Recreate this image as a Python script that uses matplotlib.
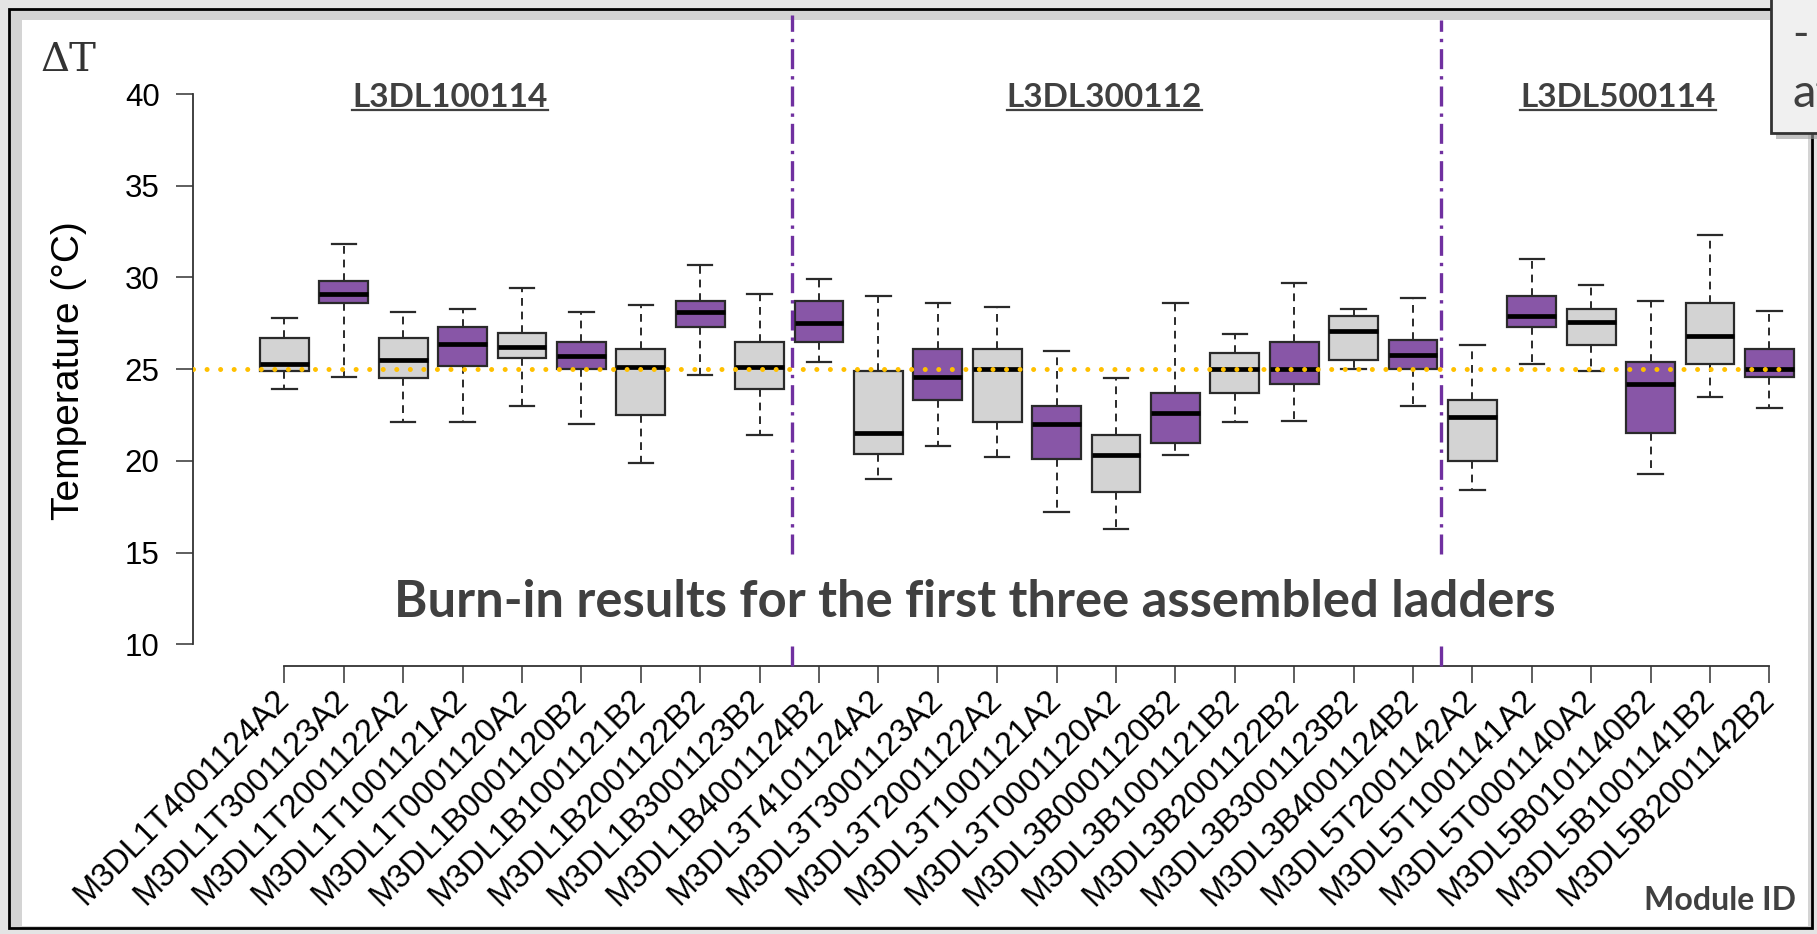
import numpy as np
import matplotlib.pyplot as plt
from matplotlib.patches import Rectangle
from matplotlib.lines import Line2D

W, H, DPI = 1817, 934, 100

# module IDs on the x axis
modules = ["M3DL1T4001124A2", "M3DL1T3001123A2", "M3DL1T2001122A2", "M3DL1T1001121A2",
           "M3DL1T0001120A2", "M3DL1B0001120B2", "M3DL1B1001121B2", "M3DL1B2001122B2",
           "M3DL1B3001123B2", "M3DL1B4001124B2",
           "M3DL3T4101124A2", "M3DL3T3001123A2", "M3DL3T2001122A2", "M3DL3T1001121A2",
           "M3DL3T0001120A2", "M3DL3B0001120B2", "M3DL3B1001121B2", "M3DL3B2001122B2",
           "M3DL3B3001123B2", "M3DL3B4001124B2",
           "M3DL5T2001142A2", "M3DL5T1001141A2", "M3DL5T0001140A2", "M3DL5B0101140B2",
           "M3DL5B1001141B2", "M3DL5B2001142B2"]

# box statistics (deg C)
whislo = [23.9, 24.6, 22.1, 22.1, 23.0, 22.0, 19.9, 24.7, 21.4, 25.4,
          19.0, 20.8, 20.2, 17.2, 16.3, 20.3, 22.1, 22.2, 25.0, 23.0,
          18.4, 25.3, 24.9, 19.3, 23.5, 22.9]
q1 = [24.9, 28.6, 24.5, 25.2, 25.6, 25.0, 22.5, 27.3, 23.9, 26.5,
      20.4, 23.3, 22.1, 20.1, 18.3, 21.0, 23.7, 24.2, 25.5, 25.0,
      20.0, 27.3, 26.3, 21.5, 25.3, 24.6]
med = [25.3, 29.1, 25.5, 26.4, 26.2, 25.7, 25.1, 28.1, 25.1, 27.5,
       21.5, 24.6, 25.0, 22.0, 20.3, 22.6, 25.0, 25.0, 27.1, 25.8,
       22.4, 27.9, 27.6, 24.2, 26.8, 25.0]
q3 = [26.7, 29.8, 26.7, 27.3, 27.0, 26.5, 26.1, 28.7, 26.5, 28.7,
      24.9, 26.1, 26.1, 23.0, 21.4, 23.7, 25.9, 26.5, 27.9, 26.6,
      23.3, 29.0, 28.3, 25.4, 28.6, 26.1]
whishi = [27.8, 31.8, 28.1, 28.3, 29.4, 28.1, 28.5, 30.7, 29.1, 29.9,
          29.0, 28.6, 28.4, 26.0, 24.5, 28.6, 26.9, 29.7, 28.3, 28.9,
          26.3, 31.0, 29.6, 28.7, 32.3, 28.2]

ladders = ["L3DL100114", "L3DL300112", "L3DL500114"]
ladder_x = [2.79, 13.8, 22.45]       # label centres
sep_x = [8.55, 19.47]                # dash-dot separators as drawn
ref_temp = 25
yticks = [10, 15, 20, 25, 30, 35, 40]

fills = ["#D3D3D3", "#8856A7"]
dark = "#404040"


def fx(px):
    return px / W


def fy(py):
    return 1 - py / H


fig = plt.figure(figsize=(W / DPI, H / DPI), dpi=DPI, facecolor="#e4e4e4")

# slide frame and the pasted plot image
fig.add_artist(Rectangle((fx(9), fy(928)), fx(1803), 919 / H, transform=fig.transFigure,
                         facecolor="#d4d4d4", edgecolor="black", lw=2, zorder=-3))
fig.add_artist(Rectangle((fx(22), fy(926)), fx(1786), 906 / H, transform=fig.transFigure,
                         facecolor="white", edgecolor="none", zorder=-2))

ax = fig.add_axes([fx(193), fy(665.7), fx(1800 - 193), (665.7 - 10) / H])
ax.set_facecolor("none")

stats = [dict(whislo=whislo[i], q1=q1[i], med=med[i], q3=q3[i], whishi=whishi[i], fliers=[])
         for i in range(len(modules))]
pos = np.arange(len(modules))
bp = ax.bxp(stats, positions=pos, widths=0.82, capwidths=0.41, patch_artist=True,
            showfliers=False,
            boxprops=dict(edgecolor="#2a2a2a", linewidth=1.6),
            medianprops=dict(color="black", linewidth=3.4, solid_capstyle="butt"),
            whiskerprops=dict(color="#2a2a2a", linewidth=1.4, linestyle=(0, (4, 3))),
            capprops=dict(color="#2a2a2a", linewidth=1.6))
for i, b in enumerate(bp["boxes"]):
    b.set_facecolor(fills[i % 2])

ax.set_xlim(-1.539, 25.515)
ax.set_ylim(8.833, 44.585)

# reference temperature
ax.axhline(ref_temp, xmin=0, xmax=0.994, color="#FFC000", lw=3.6,
           linestyle=(0, (0.01, 2.7)), dash_capstyle="round", zorder=4)

# ladder separators
for xs, top in zip(sep_x, [0.992, 0.985]):
    ax.axvline(xs, ymin=0, ymax=top, color="#7030A0", lw=2.4,
               linestyle=(0, (6, 2.1, 1, 2.1)), clip_on=False, zorder=3)

for s in ["top", "right"]:
    ax.spines[s].set_visible(False)
for s in ["left", "bottom"]:
    ax.spines[s].set_color("#333333")
    ax.spines[s].set_linewidth(1.3)
ax.spines["left"].set_bounds(10, 40)
ax.spines["bottom"].set_bounds(0, 25)

ax.set_yticks(yticks)
ax.set_yticklabels([str(t) for t in yticks], family="Liberation Sans", fontsize=22.5)
ax.tick_params(axis="y", direction="out", length=12, width=1.1, color="#333333", pad=12)
ax.set_xticks(pos)
ax.set_xticklabels(modules, rotation=45, ha="right", va="center", rotation_mode="anchor",
                   family="Liberation Sans", fontsize=23.5)
ax.tick_params(axis="x", direction="out", length=12, width=1.1, color="#333333", pad=9)

ax.set_ylabel("Temperature (°C)", family="Liberation Sans", fontsize=28)
ax.yaxis.set_label_coords(-0.066, 0.45)

ax.text(11.63, 11.5, "Burn-in results for the first three assembled ladders", ha="center",
        va="baseline", fontsize=36.5, fontweight="bold", family="Lato", color=dark,
        bbox=dict(facecolor="white", edgecolor="none", pad=13), zorder=6)

labels = []
for name, xc in zip(ladders, ladder_x):
    labels.append(ax.text(xc, 39.3, name, ha="center", va="baseline", fontsize=24,
                          fontweight="bold", family="Lato", color=dark))

fig.text(fx(40), fy(71), "ΔT", family="DejaVu Serif", fontsize=29, color="#333333",
         va="baseline")
fig.text(fx(1796), fy(910), "Module ID", family="Lato", fontweight="bold", fontsize=23,
         color=dark, ha="right", va="baseline")

# note box cut by the right edge
fig.add_artist(Rectangle((fx(1776), fy(139)), fx(80), 150 / H, transform=fig.transFigure,
                         facecolor="#9a9a9a", edgecolor="none", alpha=0.6, zorder=4))
fig.add_artist(Rectangle((fx(1771), fy(133)), fx(80), 150 / H, transform=fig.transFigure,
                         facecolor="#f0f0f0", edgecolor="#333333", lw=2, zorder=5))
fig.text(fx(1792), fy(48), "-", family="Lato", fontsize=32, color=dark, va="baseline", zorder=6)
fig.text(fx(1792), fy(107), "at", family="Lato", fontsize=34, color=dark, va="baseline", zorder=6)

# underline the ladder names
fig.canvas.draw()
for t in labels:
    bb = t.get_window_extent()
    ybase = ax.transData.transform((0, 39.3))[1] - 3.5
    fig.add_artist(Line2D([bb.x0, bb.x1], [ybase, ybase], transform=None, color=dark, lw=1.6))

fig.savefig("out.png", dpi=DPI, facecolor=fig.get_facecolor())
